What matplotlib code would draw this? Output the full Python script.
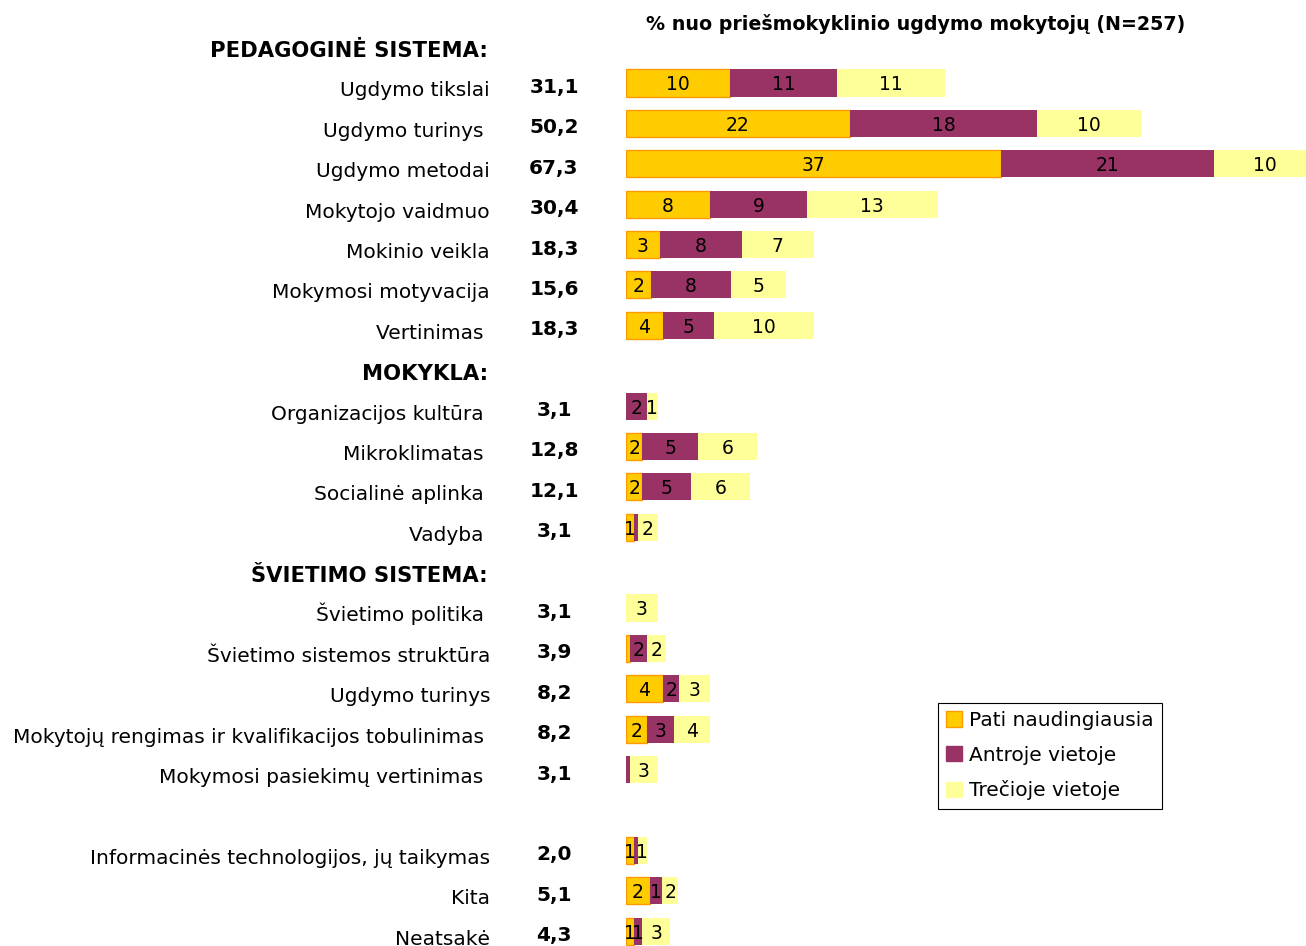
import matplotlib
matplotlib.use('Agg')
import matplotlib.pyplot as plt
import numpy as np
from matplotlib.patches import Patch
from matplotlib.transforms import blended_transform_factory

# groups of rows, header first
headers = ["PEDAGOGINĖ SISTEMA:", "MOKYKLA:", "ŠVIETIMO SISTEMA:", ""]
group_items = [
    ["Ugdymo tikslai", "Ugdymo turinys ", "Ugdymo metodai", "Mokytojo vaidmuo",
     "Mokinio veikla", "Mokymosi motyvacija", "Vertinimas "],
    ["Organizacijos kultūra ", "Mikroklimatas ", "Socialinė aplinka ", "Vadyba "],
    ["Švietimo politika ", "Švietimo sistemos struktūra", "Ugdymo turinys",
     "Mokytojų rengimas ir kvalifikacijos tobulinimas ", "Mokymosi pasiekimų vertinimas "],
    ["Informacinės technologijos, jų taikymas", "Kita", "Neatsakė"],
]

totals = [31.1, 50.2, 67.3, 30.4, 18.3, 15.6, 18.3,
          3.1, 12.8, 12.1, 3.1,
          3.1, 3.9, 8.2, 8.2, 3.1,
          2.0, 5.1, 4.3]

first = [10.1, 21.8, 36.6, 8.2, 3.3, 2.4, 3.6,
         0.0, 1.6, 1.6, 0.8,
         0.0, 0.4, 3.6, 2.0, 0.0,
         0.8, 2.3, 0.8]
second = [10.5, 18.3, 20.7, 9.4, 8.0, 7.8, 5.0,
          2.0, 5.4, 4.7, 0.4,
          0.0, 1.6, 1.6, 2.7, 0.4,
          0.4, 1.2, 0.8]
third = [10.5, 10.1, 10.0, 12.8, 7.0, 5.4, 9.7,
         1.1, 5.8, 5.8, 1.9,
         3.1, 1.9, 3.0, 3.5, 2.7,
         0.8, 1.6, 2.7]

series_names = ["Pati naudingiausia", "Antroje vietoje", "Trečioje vietoje"]
colors = ["#FFCC00", "#993366", "#FFFF99"]
edges = ["#FF9900", "none", "none"]

title = "% nuo priešmokyklinio ugdymo mokytojų (N=257)"

W, H = 1306, 946
ROW = 40.38  # px per row
fig = plt.figure(figsize=(W / 100, H / 100), dpi=100)
# axis runs past the right edge, like the original (longest bar gets cut)
ax = fig.add_axes([626 / W, 0, 718 / W, 1])
ax.set_xlim(0, 70)
ax.set_ylim(22.37, -1.055)
ax.axis('off')

# row positions
header_pos = []
labels = []
ypos = []
pos = 0
for hdr, items in zip(headers, group_items):
    header_pos.append(pos)
    pos += 1
    for it in items:
        labels.append(it)
        ypos.append(pos)
        pos += 1
ypos = np.array(ypos)

left = np.zeros(len(labels))
for vals, col, ec, name in zip([first, second, third], colors, edges, series_names):
    vals = np.array(vals)
    lw = [1.0 if (v > 0 and ec != "none") else 0 for v in vals]
    ax.barh(ypos, vals, left=left, height=0.67, color=col, edgecolor=ec,
            linewidth=lw, label=name)
    for y, l, v in zip(ypos, left, vals):
        n = int(np.floor(v + 0.5))
        if n >= 1:
            ax.text(l + v / 2, y + 7.5 / ROW, str(n), ha='center', va='baseline',
                    fontsize=13.5, color='black')
    left = left + vals

tr = blended_transform_factory(fig.transFigure, ax.transData)
for hdr, p in zip(headers, header_pos):
    if hdr:
        fig.text(488 / W, p + 14 / ROW, hdr, transform=tr, ha='right', va='baseline',
                 fontsize=15.2, fontweight='bold')
for lab, y, t in zip(labels, ypos, totals):
    fig.text(490 / W, y + 13.5 / ROW, lab, transform=tr, ha='right', va='baseline', fontsize=14.5)
    fig.text(554 / W, y + 10 / ROW, f"{t:.1f}".replace('.', ','), transform=tr,
             ha='center', va='baseline', fontsize=14.5, fontweight='bold')

fig.text(916 / W, 1 - 30 / H, title, ha='center', va='baseline', fontsize=13.7, fontweight='bold')

handles = [Patch(facecolor=c, edgecolor=(e if e != "none" else c)) for c, e in zip(colors, edges)]
leg = fig.legend(handles, series_names, loc='upper left',
                 bbox_to_anchor=(938 / W, 1 - 703 / H), fontsize=14.5,
                 frameon=True, fancybox=False, edgecolor='black', framealpha=1,
                 handlelength=0.8, handleheight=0.8, handletextpad=0.35,
                 borderpad=0.4, labelspacing=0.78, borderaxespad=0)
leg.get_frame().set_linewidth(0.8)

fig.savefig("out.png", dpi=100)
